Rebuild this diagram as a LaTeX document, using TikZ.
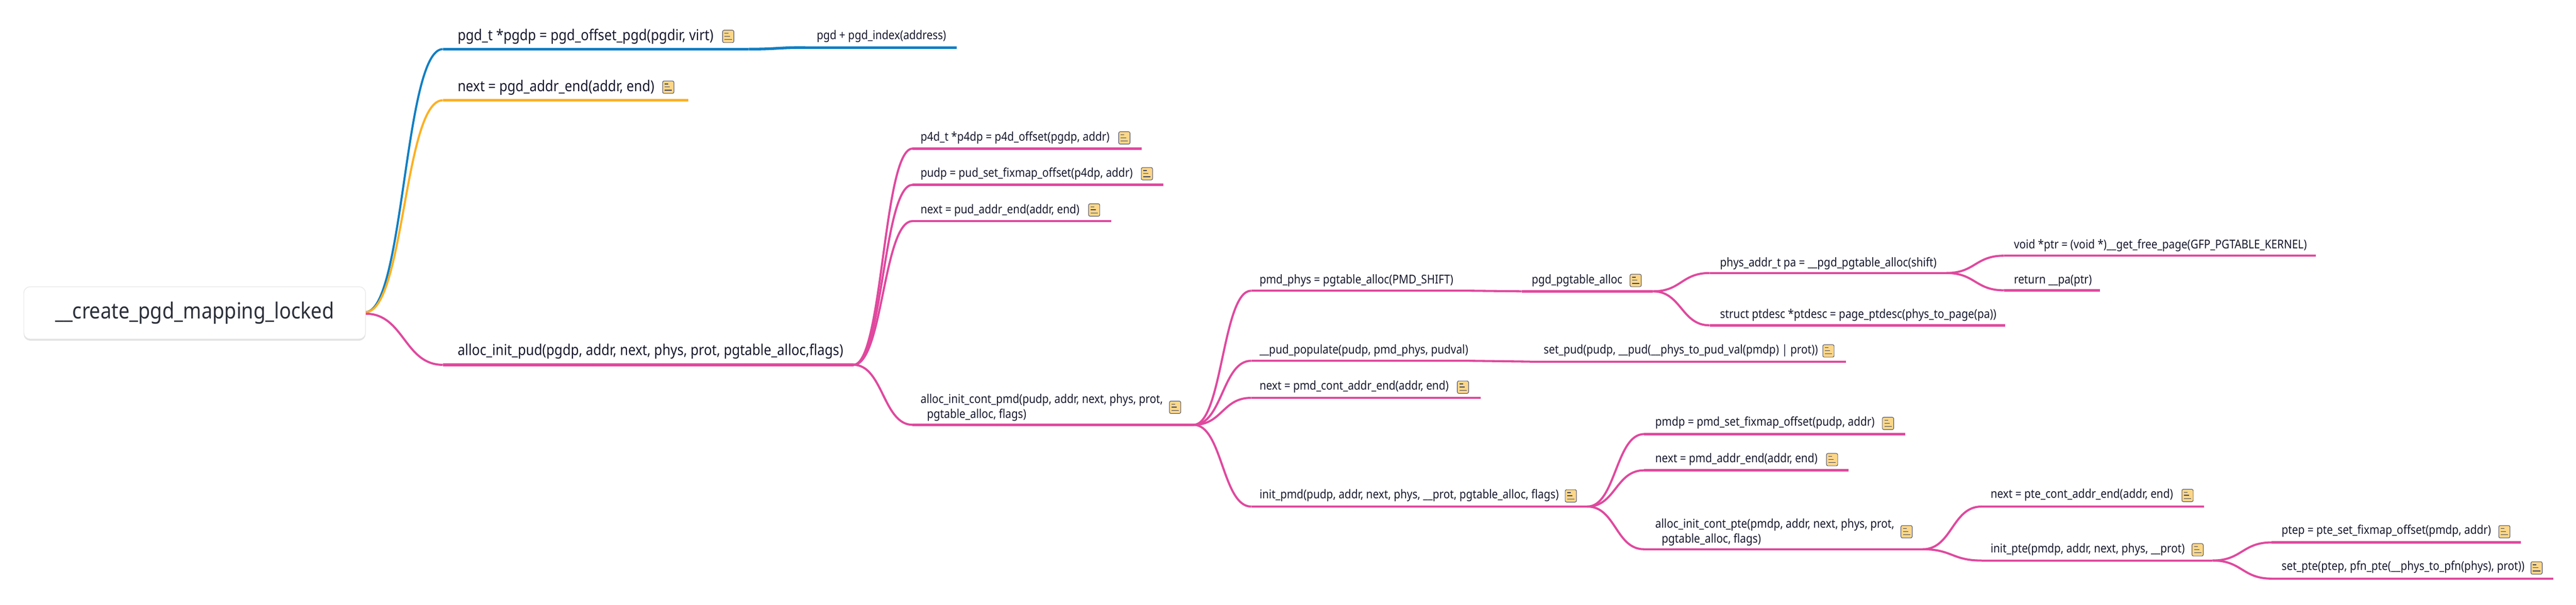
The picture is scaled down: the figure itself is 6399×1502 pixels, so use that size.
\documentclass[tikz,border=0pt]{standalone}
\usepackage{fontspec}
\setmainfont[FakeStretch=0.88]{Noto Sans}
\usetikzlibrary{calc}
\definecolor{brblue}{HTML}{0F7FC4}
\definecolor{brorange}{HTML}{FDB022}
\definecolor{brpink}{HTML}{E0489E}
\definecolor{ink}{HTML}{16182C}
\definecolor{rootink}{HTML}{2B2F38}
\definecolor{notefill}{HTML}{FDD688}
\definecolor{noteline}{HTML}{3C4262}
\tikzset{
  px/.style={x=0.25pt,y=-0.25pt},
  barbig/.style={line width=1.7pt},
  barsmall/.style={line width=1.4pt},
  curve/.style={line width=1.3pt},
  lab/.style={font=\fontsize{7.55}{9}\selectfont,text=ink,inner sep=0pt,anchor=base west},
  labbig/.style={font=\fontsize{9.35}{11}\selectfont,text=ink,inner sep=0pt,anchor=base west},
  docicon/.style={draw=noteline,fill=notefill,line width=0.3pt,rounded corners=0.9pt,
    minimum width=7pt,minimum height=7.7pt,inner sep=0pt,outer sep=0pt},
  iconmark/.style={draw=noteline,line width=0.4pt},
  rootbox/.style={draw=black!10,fill=white,line width=0.35pt,rounded corners=4pt,
    minimum width=212.25pt,minimum height=32.5pt,inner sep=0pt,
    font=\fontsize{13.8}{16}\selectfont,text=rootink},
  rootshade/.style={fill=black!11,rounded corners=4pt,
    minimum width=212.25pt,minimum height=32.5pt,inner sep=0pt},
}
% \tp[line options]{name}{x start}{x end}{y}{text x}{baseline}{style}{text}
\newcommand{\tp}[9][brpink]{%
  \coordinate (#2-s) at (#3,#5);
  \coordinate (#2-e) at (#4,#5);
  \draw[barsmall,#1] (#2-s) -- (#2-e);
  \node[#8] (#2) at (#6,#7) {#9};
}
\newcommand{\link}[3][brpink]{%
  \coordinate (m) at ($(#2)!.5!(#3)$);
  \draw[curve,#1] (#2) .. controls (#2 -| m) and (#3 -| m) .. (#3);
}
\newcommand{\note}[3]{%
  \node[docicon] (#1) at (#2+14,#3+15.5) {};
  \begin{scope}[shift={(#2,#3)}]
    \draw[iconmark] (5,7.5) -- (14,7.5);
    \draw[iconmark] (5,15) -- (18,15);
    \draw[iconmark] (5,23) -- (23,23);
  \end{scope}
}
\begin{document}
\begin{tikzpicture}[px]
\useasboundingbox (0,0) rectangle (6399,1502);
\fill[white] (0,0) rectangle (6399,1502);

% root
\coordinate (root-a) at (908,775);
\coordinate (root-b) at (908,779);

% first level
\tp[brblue,barbig]{pgdt}{1100}{1860}{122}{1136}{100}{labbig}{pgd\_t *pgdp = pgd\_offset\_pgd(pgdir, virt)}
\link[brblue]{root-a}{pgdt-s}
\note{n1}{1795}{75}
\tp[brblue,barbig]{pgdidx}{2000}{2377}{118}{2028}{98}{lab}{pgd + pgd\_index(address)}
\link[brblue,barbig]{pgdt-e}{pgdidx-s}

\tp[brorange,barbig]{nextpgd}{1100}{1710}{249}{1136}{227}{labbig}{next = pgd\_addr\_end(addr, end)}
\link[brorange]{root-a}{nextpgd-s}
\note{n2}{1646}{201}

\tp[brpink,barbig]{pud}{1100}{2120}{906}{1136}{882}{labbig}{alloc\_init\_pud(pgdp, addr, next, phys, prot, pgtable\_alloc,flags)}
\link{root-b}{pud-s}

% under alloc_init_pud
\tp{p4d}{2267}{2836}{369}{2286}{350}{lab}{p4d\_t *p4dp = p4d\_offset(pgdp, addr)}
\link{pud-e}{p4d-s}
\note{n3}{2779}{327}
\tp{pudp}{2267}{2890}{459}{2286}{440}{lab}{pudp = pud\_set\_fixmap\_offset(p4dp, addr)}
\link{pud-e}{pudp-s}
\note{n4}{2835}{416}
\tp{nextpud}{2267}{2760}{549}{2286}{531}{lab}{next = pud\_addr\_end(addr, end)}
\link{pud-e}{nextpud-s}
\note{n5}{2704}{506}
\tp{contpmd}{2267}{2965}{1055}{2286}{1002}{lab}{alloc\_init\_cont\_pmd(pudp, addr, next, phys, prot,}
\node[lab] (contpmd-2) at (2302,1039) {pgtable\_alloc, flags)};
\link{pud-e}{contpmd-s}
\note{n6}{2905}{996}

% under alloc_init_cont_pmd
\tp{pmdphys}{3108}{3650}{722}{3128}{704}{lab}{pmd\_phys = pgtable\_alloc(PMD\_SHIFT)}
\link{contpmd-e}{pmdphys-s}
\tp{pgdalloc}{3780}{4106}{723.5}{3804}{704}{lab}{pgd\_pgtable\_alloc}
\link{pmdphys-e}{pgdalloc-s}
\note{n7}{4049}{681}
\tp{pudpop}{3108}{3650}{896}{3128}{878}{lab}{\_\_pud\_populate(pudp, pmd\_phys, pudval)}
\link{contpmd-e}{pudpop-s}
\tp{setpud}{3800}{4586}{898}{3834}{878}{lab}{set\_pud(pudp, \_\_pud(\_\_phys\_to\_pud\_val(pmdp) | prot))}
\link{pudpop-e}{setpud-s}
\note{n8}{4528}{856}
\tp{nextcont}{3108}{3678}{988}{3128}{968}{lab}{next = pmd\_cont\_addr\_end(addr, end)}
\link{contpmd-e}{nextcont-s}
\note{n9}{3620}{946}
\tp{initpmd}{3108}{3943}{1258}{3128}{1238}{lab}{init\_pmd(pudp, addr, next, phys, \_\_prot, pgtable\_alloc, flags)}
\link{contpmd-e}{initpmd-s}
\note{n10}{3888}{1216}

% under pgd_pgtable_alloc
\tp{physaddr}{4247}{4835}{678}{4272}{662}{lab}{phys\_addr\_t pa = \_\_pgd\_pgtable\_alloc(shift)}
\link{pgdalloc-e}{physaddr-s}
\tp{ptdesc}{4247}{4981}{808}{4272}{790}{lab}{struct ptdesc *ptdesc = page\_ptdesc(phys\_to\_page(pa))}
\link{pgdalloc-e}{ptdesc-s}
\tp{voidptr}{4978}{5753}{635}{5002}{618}{lab}{void *ptr = (void *)\_\_get\_free\_page(GFP\_PGTABLE\_KERNEL)}
\link{physaddr-e}{voidptr-s}
\tp{retpa}{4978}{5217}{721}{5002}{705}{lab}{return \_\_pa(ptr)}
\link{physaddr-e}{retpa-s}

% under init_pmd
\tp{pmdp}{4084}{4732}{1078}{4111}{1058}{lab}{pmdp = pmd\_set\_fixmap\_offset(pudp, addr)}
\link{initpmd-e}{pmdp-s}
\note{n11}{4676}{1036}
\tp{nextpmd}{4084}{4592}{1168}{4111}{1148}{lab}{next = pmd\_addr\_end(addr, end)}
\link{initpmd-e}{nextpmd-s}
\note{n12}{4537}{1126}
\tp{contpte}{4084}{4776}{1364}{4111}{1311}{lab}{alloc\_init\_cont\_pte(pmdp, addr, next, phys, prot,}
\node[lab] (contpte-2) at (4127,1348) {pgtable\_alloc, flags)};
\link{initpmd-e}{contpte-s}
\note{n13}{4722}{1305}

% under alloc_init_cont_pte
\tp{nextpte}{4922}{5475}{1258}{4944}{1237}{lab}{next = pte\_cont\_addr\_end(addr, end)}
\link{contpte-e}{nextpte-s}
\note{n14}{5420}{1215}
\tp{initpte}{4922}{5496}{1392}{4944}{1372}{lab}{init\_pte(pmdp, addr, next, phys, \_\_prot)}
\link{contpte-e}{initpte-s}
\note{n15}{5445}{1350}
\tp{ptep}{5643}{6262}{1347}{5667}{1326}{lab}{ptep = pte\_set\_fixmap\_offset(pmdp, addr)}
\link{initpte-e}{ptep-s}
\note{n16}{6207}{1305}
\tp{setpte}{5643}{6342}{1437}{5667}{1416}{lab}{set\_pte(ptep, pfn\_pte(\_\_phys\_to\_pfn(phys), prot))}
\link{initpte-e}{setpte-s}
\note{n17}{6287}{1395}

% root box on top
\node[rootshade] (rootshadow) at (483.5,781) {};
\node[rootbox] (rootnode) at (483.5,777) {\_\_create\_pgd\_mapping\_locked};
\end{tikzpicture}
\end{document}
